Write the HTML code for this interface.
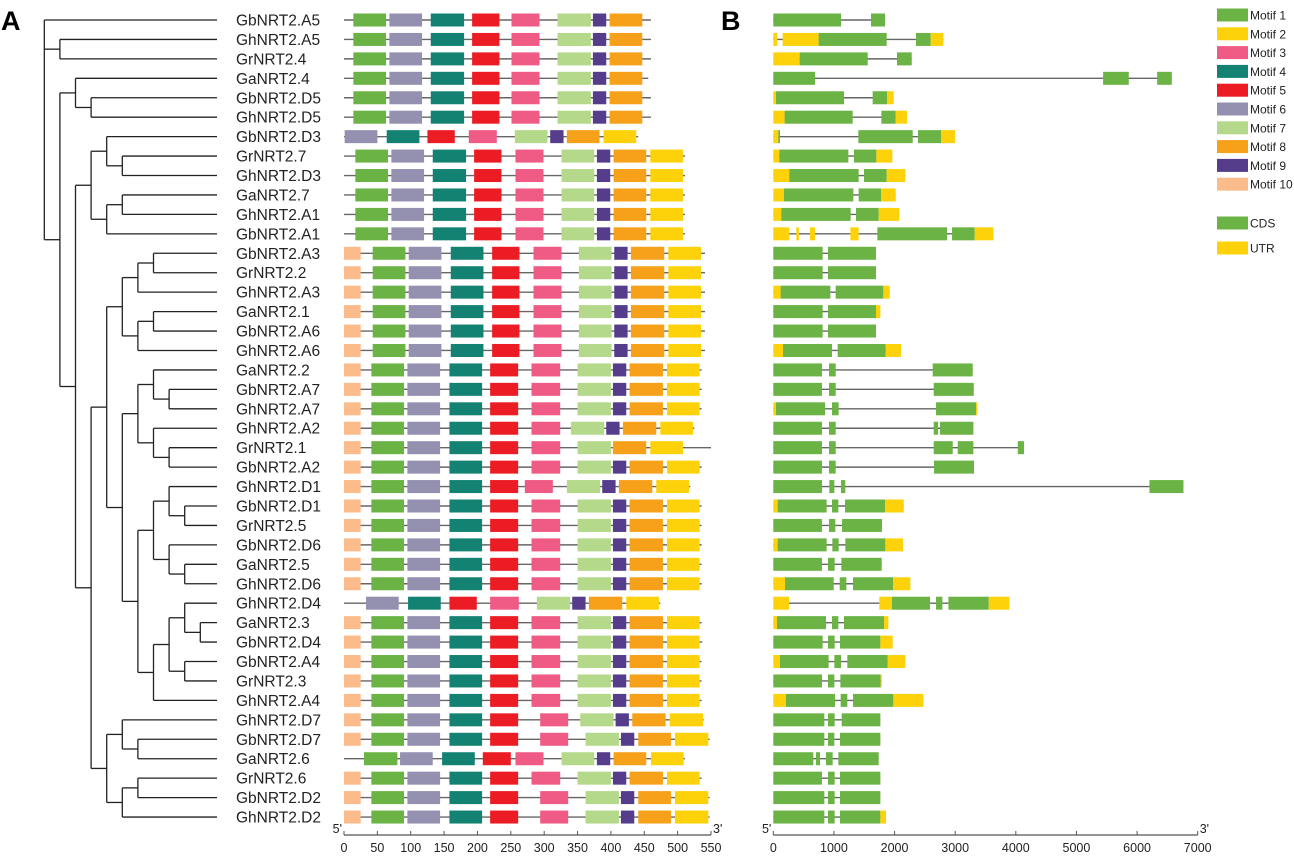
<!DOCTYPE html>
<html><head><meta charset="utf-8"><style>
html,body{margin:0;padding:0;background:#fff;}
svg{display:block;font-family:"Liberation Sans",Arial,sans-serif;}
</style></head><body>
<svg id="fig" width="1294" height="857" viewBox="0 0 1294 857" xmlns="http://www.w3.org/2000/svg">
<text x="1" y="30" font-size="27" font-weight="bold" fill="#000">A</text>
<text x="721" y="30" font-size="27" font-weight="bold" fill="#000">B</text>
<g id="tree"></g>
<g id="labels"></g>
<g id="motifs"></g>
<g id="genes"></g>
<g id="axisA"></g>
<g id="axisB"></g>
<g id="legend"></g>
</svg>
<script>
const geneNames = ["GbNRT2.A5","GhNRT2.A5","GrNRT2.4","GaNRT2.4","GbNRT2.D5","GhNRT2.D5","GbNRT2.D3","GrNRT2.7","GhNRT2.D3","GaNRT2.7","GhNRT2.A1","GbNRT2.A1","GbNRT2.A3","GrNRT2.2","GhNRT2.A3","GaNRT2.1","GbNRT2.A6","GhNRT2.A6","GaNRT2.2","GbNRT2.A7","GhNRT2.A7","GhNRT2.A2","GrNRT2.1","GbNRT2.A2","GhNRT2.D1","GbNRT2.D1","GrNRT2.5","GbNRT2.D6","GaNRT2.5","GhNRT2.D6","GhNRT2.D4","GaNRT2.3","GbNRT2.D4","GbNRT2.A4","GrNRT2.3","GhNRT2.A4","GhNRT2.D7","GbNRT2.D7","GaNRT2.6","GrNRT2.6","GbNRT2.D2","GhNRT2.D2"];
const treeTopology = [0,[1,2],[[3,[4,5]],[[[6,[7,8]],[[9,10],11]],[[[[[12,13],14],[[15,16],17]],[[[18,[19,20]],[21,[22,23]]],[[[24,[25,26]],[27,[28,29]]],[[[30,[31,32]],[33,34]],35]]]],[[36,[37,38]],[[39,40],41]]]]]];
const motifStd = [[10,0,25],[1,41,90],[6,95,144],[4,158,207],[5,219,261],[3,281,324],[7,350,400],[9,403,423],[8,428,478],[2,484,533]];
const motifA3 = [[10,0,25],[1,43,92],[6,97,146],[4,160,209],[5,222,263],[3,284,326],[7,352,401],[9,405,425],[8,430,480],[2,486,535]];
const motifA5 = [[1,14,63],[6,68,117],[4,130,180],[5,192,233],[3,251,293],[7,320,370],[9,373,393],[8,398,447]];
const motifA7 = [[1,17,66],[6,71,120],[4,133,183],[5,195,236],[3,257,299],[7,326,375],[9,379,399],[8,404,453],[2,459,508]];
const motifGbD3 = [[6,1,50],[4,64,113],[5,125,166],[3,187,229],[7,256,305],[9,309,329],[8,334,383],[2,389,438]];
const motifGhA2 = [[10,0,25],[1,41,90],[6,95,144],[4,158,207],[5,219,261],[3,281,324],[7,340,390],[9,393,413],[8,418,468],[2,474,523]];
const motifGr21 = [[10,0,25],[1,41,90],[6,95,144],[4,158,207],[5,219,261],[3,281,324],[7,350,400],[8,403,453],[2,459,508]];
const motifGhD1 = [[10,0,25],[1,41,90],[6,95,144],[4,158,207],[5,219,261],[3,271,313],[7,334,384],[9,387,407],[8,412,462],[2,468,517]];
const motifGhD4 = [[6,33,82],[4,96,145],[5,158,199],[3,219,262],[7,289,339],[9,342,362],[8,367,417],[2,423,472]];
const motifGhD7 = [[10,0,25],[1,41,90],[6,95,144],[4,158,207],[5,219,261],[3,294,336],[7,354,404],[9,407,427],[8,432,482],[2,488,538]];
const motifGbD7 = [[10,0,25],[1,41,90],[6,95,144],[4,158,207],[5,219,261],[3,294,336],[7,362,412],[9,415,435],[8,441,490],[2,496,546]];
const motifGa26 = [[1,30,80],[6,84,133],[4,147,196],[5,208,250],[3,257,299],[7,326,375],[9,379,399],[8,404,453],[2,460,509]];
const motifRows = [motifA5,motifA5,motifA5,motifA5,motifA5,motifA5,motifGbD3,motifA7,motifA7,motifA7,motifA7,motifA7,motifA3,motifA3,motifA3,motifA3,motifA3,motifA3,motifStd,motifStd,motifStd,motifGhA2,motifGr21,motifStd,motifGhD1,motifStd,motifStd,motifStd,motifStd,motifStd,motifGhD4,motifStd,motifStd,motifStd,motifStd,motifStd,motifGhD7,motifGbD7,motifGa26,motifStd,motifGbD7,motifGbD7];
const proteinLengths = [460,460,460,456,460,460,441,511,511,511,511,511,541,541,541,541,541,541,536,536,536,525,550,536,519,536,536,536,536,536,474,536,537,536,536,536,539,548,511,536,548,548];
const geneStructures = [
[[0,1117,"C"],[1612,1843,"C"]],
[[0,66,"U"],[154,748,"U"],[748,1870,"C"],[2354,2596,"C"],[2596,2805,"U"]],
[[0,435,"U"],[435,1557,"C"],[2040,2283,"C"]],
[[0,688,"C"],[5440,5863,"C"],[6331,6573,"C"]],
[[0,44,"U"],[44,1166,"C"],[1639,1876,"C"],[1876,1986,"U"]],
[[0,187,"U"],[187,1309,"C"],[1782,2019,"C"],[2019,2206,"U"]],
[[0,83,"U"],[83,110,"C"],[1403,2299,"C"],[2387,2767,"C"],[2767,2998,"U"]],
[[0,99,"U"],[99,1238,"C"],[1331,1700,"C"],[1700,1964,"U"]],
[[0,264,"U"],[264,1408,"C"],[1496,1870,"C"],[1870,2178,"U"]],
[[0,176,"U"],[176,1320,"C"],[1408,1777,"C"],[1777,2019,"U"]],
[[0,132,"U"],[132,1276,"C"],[1364,1738,"C"],[1738,2079,"U"]],
[[0,264,"U"],[380,424,"U"],[605,688,"U"],[1271,1408,"U"],[1716,2866,"C"],[2948,3322,"C"],[3322,3630,"U"]],
[[0,814,"C"],[902,1694,"C"]],
[[0,814,"C"],[902,1694,"C"]],
[[0,121,"U"],[121,941,"C"],[1029,1815,"C"],[1815,1920,"U"]],
[[0,814,"C"],[902,1694,"C"],[1694,1766,"U"]],
[[0,814,"C"],[902,1694,"C"]],
[[0,160,"U"],[160,968,"C"],[1062,1854,"C"],[1854,2107,"U"]],
[[0,803,"C"],[919,1029,"C"],[2629,3289,"C"]],
[[0,803,"C"],[919,1029,"C"],[2646,3306,"C"]],
[[0,44,"U"],[44,853,"C"],[968,1078,"C"],[2684,3344,"C"],[3344,3366,"U"]],
[[0,803,"C"],[919,1029,"C"],[2646,2717,"C"],[2750,3300,"C"]],
[[0,803,"C"],[919,1029,"C"],[2646,2959,"C"],[3042,3300,"C"],[4032,4136,"C"]],
[[0,803,"C"],[919,1029,"C"],[2651,3311,"C"]],
[[0,803,"C"],[924,1007,"C"],[1117,1188,"C"],[6204,6765,"C"]],
[[0,72,"U"],[72,880,"C"],[968,1073,"C"],[1183,1843,"C"],[1843,2151,"U"]],
[[0,803,"C"],[919,1023,"C"],[1133,1793,"C"]],
[[0,72,"U"],[72,880,"C"],[974,1078,"C"],[1188,1848,"C"],[1848,2140,"U"]],
[[0,803,"C"],[902,1012,"C"],[1122,1788,"C"]],
[[0,193,"U"],[193,996,"C"],[1095,1205,"C"],[1315,1975,"C"],[1975,2261,"U"]],
[[0,259,"U"],[1749,1958,"U"],[1958,2585,"C"],[2684,2789,"C"],[2888,3553,"C"],[3553,3894,"U"]],
[[0,61,"U"],[61,869,"C"],[968,1073,"C"],[1166,1826,"C"],[1826,1898,"U"]],
[[0,814,"C"],[902,1012,"C"],[1100,1766,"C"],[1766,1969,"U"]],
[[0,110,"U"],[110,913,"C"],[1007,1117,"C"],[1221,1887,"C"],[1887,2178,"U"]],
[[0,803,"C"],[902,1007,"C"],[1106,1771,"C"],[1771,1788,"U"]],
[[0,209,"U"],[209,1018,"C"],[1111,1221,"C"],[1315,1980,"C"],[1980,2475,"U"]],
[[0,842,"C"],[902,1012,"C"],[1128,1766,"C"]],
[[0,842,"C"],[902,1007,"C"],[1100,1766,"C"]],
[[0,660,"C"],[704,770,"C"],[869,979,"C"],[1073,1738,"C"]],
[[0,803,"C"],[902,1012,"C"],[1100,1766,"C"]],
[[0,842,"C"],[902,1012,"C"],[1100,1766,"C"]],
[[0,842,"C"],[902,1012,"C"],[1100,1766,"C"],[1766,1859,"U"]]
];
const motifTicks = [0,50,100,150,200,250,300,350,400,450,500,550];
const geneTicks = [0,1000,2000,3000,4000,5000,6000,7000];
const motifLabels = ["Motif 1","Motif 2","Motif 3","Motif 4","Motif 5","Motif 6","Motif 7","Motif 8","Motif 9","Motif 10"];

const NS="http://www.w3.org/2000/svg";
const motifColors={1:"#6ab344",2:"#fdd20a",3:"#ef5b84",4:"#138272",5:"#ec1c24",6:"#9490b0",7:"#b5d98a",8:"#f7a11a",9:"#553d8c",10:"#fbbb8a"};
const structColors={C:"#6ab344",U:"#fdd20a"};
function mk(tag,attrs,parent){const e=document.createElementNS(NS,tag);for(const k in attrs)e.setAttribute(k,attrs[k]);parent.appendChild(e);return e;}
const rowY=i=>20+i*19.44;
const xA=v=>344+v*(367/550);
const xB=v=>773.3+v*0.06063;
const BH=13;

const tree=document.getElementById('tree');
const lvlX=d=>44.3+d*15.6;
function drawNode(n,d){
  if(typeof n==="number"){
    const ln=mk('line',{x1:lvlX(d-1),y1:rowY(n),x2:217,y2:rowY(n),stroke:"#222","stroke-width":1.3},tree);
    
    
    return rowY(n);
  }
  const ys=n.map(c=>drawNode(c,d+1));
  const x=lvlX(d);
  const top=Math.min(...ys),bot=Math.max(...ys);
  const v=mk('line',{x1:x,y1:top,x2:x,y2:bot,stroke:"#222","stroke-width":1.3},tree);
  
  
  ys.forEach((y,i)=>{ if(typeof n[i]!=="number"){
    const h=mk('line',{x1:x,y1:y,x2:lvlX(d+1),y2:y,stroke:"#222","stroke-width":1.3},tree);
    
    
  }});
  return (top+bot)/2;
}
drawNode(treeTopology,0);

const labels=document.getElementById('labels');
geneNames.forEach((g,i)=>{
  const t=mk('text',{x:236,y:rowY(i)+5.5,"font-size":15.5,fill:"#222"},labels);
  t.textContent=g;
  
  
});

const motifs=document.getElementById('motifs');
motifRows.forEach((row,i)=>{
  const y=rowY(i);
  const l=mk('line',{x1:xA(0),y1:y,x2:xA(proteinLengths[i]),y2:y,stroke:"#666","stroke-width":1.4},motifs);
  
  
  row.forEach(m=>{
    const r=mk('rect',{x:xA(m[1]),y:y-BH/2,width:xA(m[2])-xA(m[1]),height:BH,fill:motifColors[m[0]]},motifs);
    
    
  });
});

const genes=document.getElementById('genes');
geneStructures.forEach((row,i)=>{
  const y=rowY(i);
  const end=Math.max(...row.map(s=>s[1]));
  const l=mk('line',{x1:xB(0),y1:y,x2:xB(end),y2:y,stroke:"#666","stroke-width":1.4},genes);
  
  
  row.forEach(s=>{
    const r=mk('rect',{x:xB(s[0]),y:y-BH/2,width:Math.max(1,xB(s[1])-xB(s[0])),height:BH,fill:structColors[s[2]]},genes);
    
    
  });
});

function axis(gid,ticks,fx){
  const g=document.getElementById(gid);const y=835;
  mk('line',{x1:fx(ticks[0]),y1:y,x2:fx(ticks[ticks.length-1]),y2:y,stroke:"#555","stroke-width":1.2},g);
  ticks.forEach(t=>{
    const tk=mk('line',{x1:fx(t),y1:y,x2:fx(t),y2:y-4,stroke:"#555","stroke-width":1},g);
    
    
    const tx=mk('text',{x:fx(t),y:y+17,"font-size":12.5,"text-anchor":"middle",fill:"#222"},g);
    tx.textContent=t;
    
    
  });
  const a=mk('text',{x:fx(ticks[0])-2,y:y-2,"font-size":12.5,"text-anchor":"end",fill:"#222"},g);a.textContent="5'";
  
  
  const b=mk('text',{x:fx(ticks[ticks.length-1])+2,y:y-2,"font-size":12.5,fill:"#222"},g);b.textContent="3'";
  
  
}
axis('axisA',motifTicks,xA);
axis('axisB',geneTicks,xB);

const legend=document.getElementById('legend');
motifLabels.forEach((m,i)=>{
  const y=15+i*18.8;
  const r=mk('rect',{x:1217,y:y-6.5,width:31,height:13,fill:motifColors[i+1]},legend);
  
  
  const t=mk('text',{x:1250,y:y+4.5,"font-size":12,fill:"#222"},legend);
  t.textContent=m;
  
  
});
[["CDS","C",223],["UTR","U",248]].forEach(e=>{
  const r=mk('rect',{x:1217,y:e[2]-6.5,width:31,height:13,fill:structColors[e[1]]},legend);
  
  
  const t=mk('text',{x:1250,y:e[2]+4.5,"font-size":12,fill:"#222"},legend);
  t.textContent=e[0];
  
  
});
</script>
</body></html>
